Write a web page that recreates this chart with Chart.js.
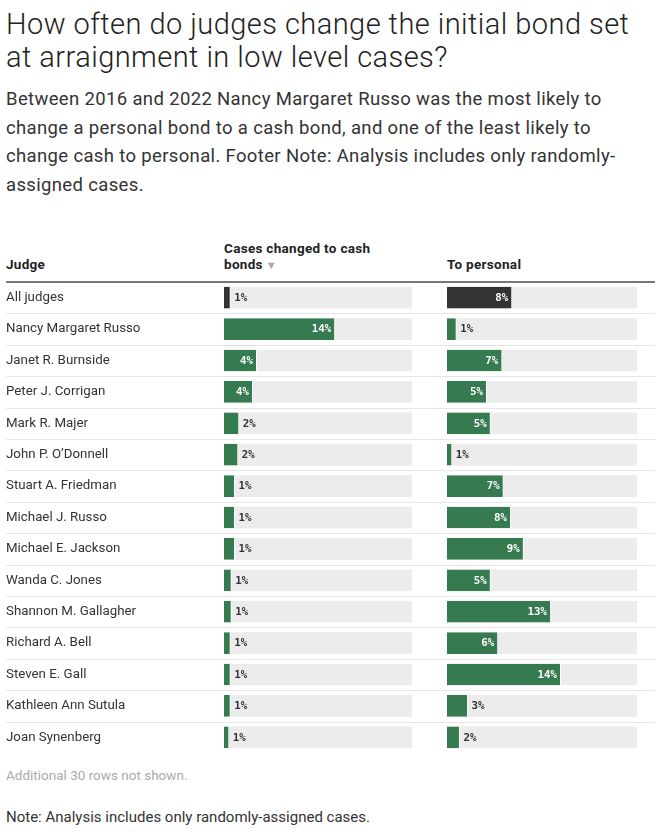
<!DOCTYPE html>
<html>
<head>
<meta charset="utf-8">
<script src="https://cdn.jsdelivr.net/npm/chart.js@4"></script>
<style>
    body { margin: 0; background: #fff; font-family: Roboto, sans-serif; color: #333; }
    #wrap { position: relative; width: 660px; height: 835px; overflow: hidden; }
    .abs { position: absolute; }
    #title { left: 6px; top: 7.7px; font-weight: 300; font-size: 29px; line-height: 33.4px; letter-spacing: 0.45px; color: #222; white-space: nowrap; }
    #subtitle { left: 6px; top: 85px; font-size: 18.5px; line-height: 28.7px; letter-spacing: 0.35px; color: #333; white-space: nowrap; }
    .head { font-weight: 700; font-size: 13.5px; line-height: 16.5px; letter-spacing: 0.3px; color: #222; white-space: nowrap; }
    .sort { font-size: 11px; color: #aaa; font-weight: 400; vertical-align: 0px; margin-left: 3px; }
    #rule { left: 6px; top: 281px; width: 649px; height: 2px; background: #777; }
    #more { left: 6px; top: 767.4px; font-size: 13.5px; line-height: 16px; color: #aaa; }
    #note { left: 6px; top: 807.6px; font-size: 15px; line-height: 18px; color: #333; }
    canvas { position: absolute; }
</style>
</head>
<body>
<div id="wrap">
    <div id="title" class="abs">How often do judges change the initial bond set<br>at arraignment in low level cases?</div>
    <div id="subtitle" class="abs">Between 2016 and 2022 Nancy Margaret Russo was the most likely to<br>change a personal bond to a cash bond, and one of the least likely to<br>change cash to personal. Footer Note: Analysis includes only randomly-<br>assigned cases.</div>

    <div class="abs head" style="left:6px; top:256.3px;">Judge</div>
    <div class="abs head" style="left:224px; top:239.8px;">Cases changed to cash<br>bonds<span class="sort">▼</span></div>
    <div class="abs head" style="left:447px; top:256.3px;">To personal</div>
    <div id="rule" class="abs"></div>

    <canvas id="cashChart" width="420" height="471" style="left:0; top:282px;"></canvas>
    <canvas id="personalChart" width="240" height="471" style="left:420px; top:282px;"></canvas>

    <div id="more" class="abs">Additional 30 rows not shown.</div>
    <div id="note" class="abs">Note: Analysis includes only randomly-assigned cases.</div>
</div>

<script>
// values (labels show them rounded)
const judges = [
    "All judges", "Nancy Margaret Russo", "Janet R. Burnside", "Peter J. Corrigan",
    "Mark R. Majer", "John P. O’Donnell", "Stuart A. Friedman", "Michael J. Russo",
    "Michael E. Jackson", "Wanda C. Jones", "Shannon M. Gallagher", "Richard A. Bell",
    "Steven E. Gall", "Kathleen Ann Sutula", "Joan Synenberg"
];
const toCash = [0.82, 13.6, 4.04, 3.55, 1.87, 1.75, 1.35, 1.35, 1.35, 0.94, 0.94, 0.82, 0.82, 0.82, 0.65];
const toPersonal = [7.9, 1.17, 6.7, 4.84, 5.3, 0.64, 6.86, 7.75, 9.3, 5.3, 12.6, 6.2, 13.8, 2.55, 1.57];
const axisMax = 23;
const totalRow = "All judges";

const GREEN = "#367b50";
const DARK = "#333333";
const TRACK = "#ececec";
const LINE = "#e6e6e6";

// grey track behind every bar + thin separators between rows
const trackPlugin = {
    id: "track",
    beforeDatasetsDraw(chart, args, opts) {
        const ctx = chart.ctx;
        const area = chart.chartArea;
        const y = chart.scales.y;
        ctx.save();
        ctx.fillStyle = LINE;
        for (let i = 0; i < chart.data.labels.length - 1; i++) {
            const yy = Math.round((y.getPixelForValue(i) + y.getPixelForValue(i + 1)) / 2);
            ctx.fillRect(opts.lineFrom, yy, opts.lineTo - opts.lineFrom, 1);
        }
        ctx.fillStyle = TRACK;
        chart.getDatasetMeta(0).data.forEach((bar) => {
            ctx.fillRect(area.left, bar.y - bar.height / 2, area.right - area.left, bar.height);
        });
        ctx.restore();
    },
};

// "14%" inside the bar when it fits, otherwise just after it
const valueLabels = {
    id: "valueLabels",
    afterDatasetsDraw(chart) {
        const ctx = chart.ctx;
        const values = chart.data.datasets[0].data;
        ctx.save();
        ctx.font = "bold 10.8px 'DejaVu Sans Mono', monospace";
        ctx.textBaseline = "middle";
        chart.getDatasetMeta(0).data.forEach((bar, i) => {
            const text = Math.round(values[i]) + "%";
            const w = ctx.measureText(text).width;
            const barW = bar.x - bar.base;
            if (barW >= w + 10) {
                ctx.fillStyle = "#fff";
                ctx.textAlign = "right";
                ctx.fillText(text, bar.x - 4, bar.y + 0.5);
            } else {
                ctx.fillStyle = "#333";
                ctx.textAlign = "left";
                ctx.fillText(text, bar.x + 3.5, bar.y + 0.5);
            }
        });
        ctx.restore();
    },
};

function barColor(c) {
    return judges[c.dataIndex] === totalRow ? DARK : GREEN;
}

function makeColumn(canvasId, values, showNames, padding, lineFrom, lineTo) {
    return new Chart(document.getElementById(canvasId), {
        type: "bar",
        data: {
            labels: judges,
            datasets: [{
                data: values,
                backgroundColor: barColor,
                borderColor: "#ffffff",
                borderWidth: { top: 0, right: 1, bottom: 0, left: 0 },
                borderSkipped: false,
                barPercentage: 0.69,
                categoryPercentage: 1,
            }],
        },
        options: {
            indexAxis: "y",
            responsive: false,
            animation: false,
            layout: { padding: padding },
            plugins: {
                legend: { display: false },
                tooltip: { enabled: false },
                track: { lineFrom: lineFrom, lineTo: lineTo },
            },
            scales: {
                x: { display: false, min: 0, max: axisMax },
                y: {
                    display: showNames,
                    grid: { display: false },
                    border: { display: false },
                    ticks: {
                        display: showNames,
                        crossAlign: "far",
                        padding: 0,
                        color: "#333",
                        font: { family: "Roboto", size: 13.3 },
                    },
                    afterFit(scale) {
                        if (showNames) scale.width = 218;
                        scale.paddingTop = 0;
                        scale.paddingBottom = 0;
                    },
                },
            },
        },
        plugins: [trackPlugin, valueLabels],
    });
}

makeColumn("cashChart", toCash, true, { left: 6, right: 8, top: 0, bottom: 0 }, 6, 420);
makeColumn("personalChart", toPersonal, false, { left: 27, right: 23, top: 0, bottom: 0 }, 0, 235);
</script>
</body>
</html>
